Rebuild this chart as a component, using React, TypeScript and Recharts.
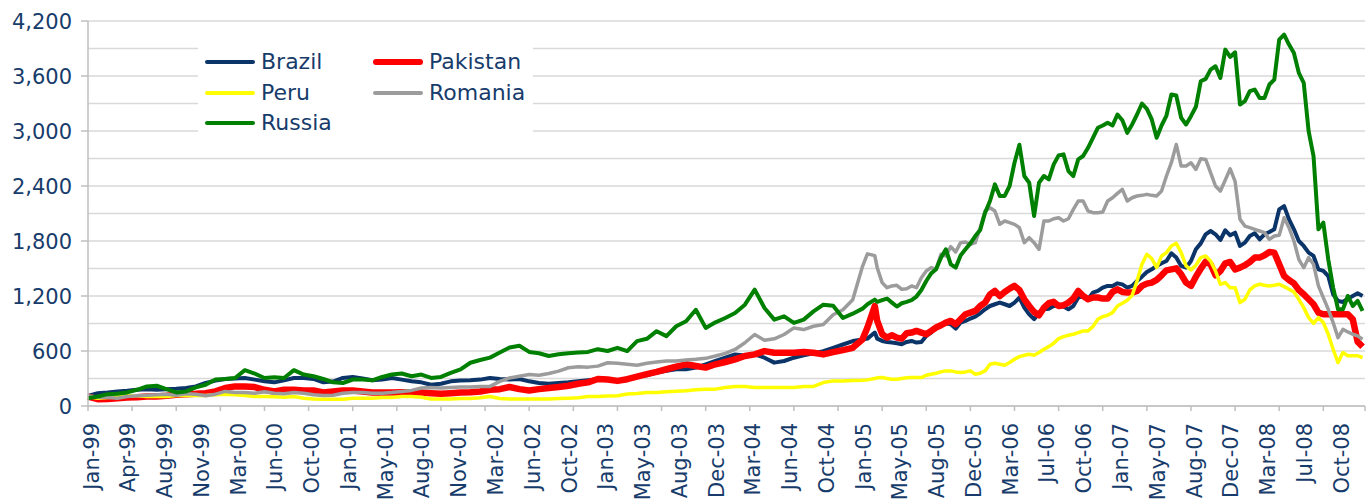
import { LineChart, Line, XAxis, YAxis, CartesianGrid } from 'recharts';

// week offsets from the first week of Jan-99 (monthly early on, fortnightly from 2005)
const weeks = [
  0, 4, 8, 12, 16, 20, 24, 28, 32, 36, 40, 44, 48, 52, 56, 60, 64, 68, 72, 76, 80, 84, 88, 92, 96, 100, 104,
  108, 112, 116, 120, 124, 128, 132, 136, 140, 144, 148, 152, 156, 160, 164, 168, 172, 176, 180, 184, 188, 192, 196, 200, 204, 208, 212,
  216, 220, 224, 228, 232, 236, 240, 244, 248, 252, 256, 260, 264, 268, 272, 276, 280, 284, 288, 292, 296, 300, 304, 308, 312, 316,
  318, 321,
  322, 324, 326, 328, 330, 332, 334, 336, 338, 340,
  342, 344, 346, 348, 350, 352, 354, 356, 358, 360,
  362, 364, 366, 368, 370, 372, 374, 376, 378, 380,
  382, 384, 386, 388, 390, 392, 394, 396, 398, 400,
  402, 404, 406, 408, 410, 412, 414, 416, 418, 420,
  422, 424, 426, 428, 430, 432, 434, 436, 438, 440,
  442, 444, 446, 448, 450, 452, 454, 456, 458, 460,
  462, 464, 466, 468, 470, 472, 474, 476, 478, 480,
  482, 484, 486, 488, 490, 492, 494, 496, 498, 500,
  502, 504, 506, 508, 510, 512, 514, 516, 518, 520,
];

const brazil = [
  111, 140, 148, 159, 166, 177, 184, 177, 184, 188, 196, 214, 251, 277, 295, 299, 306, 288, 269, 258, 280, 306, 306, 295, 258, 266, 306,
  317, 299, 280, 288, 306, 288, 269, 258, 232, 243, 269, 277, 280, 288, 306, 295, 288, 295, 269, 251, 243, 251, 258, 269, 280, 288, 295,
  274, 300, 321, 336, 365, 383, 401, 401, 419, 455, 491, 527, 563, 552, 563, 527, 473, 491, 527, 552, 574, 599, 635, 671, 708, 725,
  735, 801,
  735, 710, 699, 692, 685, 674, 699, 710, 692, 699,
  764, 801, 855, 881, 903, 892, 844, 910, 928, 954,
  975, 1011, 1055, 1091, 1110, 1128, 1110, 1091, 1128, 1183,
  1073, 1000, 947, 1019, 1055, 1062, 1091, 1091, 1085, 1055,
  1091, 1183, 1200, 1164, 1237, 1255, 1291, 1310, 1310, 1338,
  1327, 1291, 1310, 1364, 1411, 1462, 1491, 1528, 1557, 1582,
  1666, 1619, 1528, 1510, 1582, 1709, 1774, 1873, 1909, 1873,
  1811, 1917, 1862, 1891, 1746, 1782, 1855, 1884, 1818, 1873,
  1898, 1928, 2145, 2181, 2036, 1928, 1800, 1746, 1673, 1637,
  1491, 1473, 1418, 1219, 1146, 1135, 1171, 1200, 1229, 1200,
];

const pakistan = [
  103, 74, 77, 85, 92, 96, 103, 103, 111, 122, 129, 133, 140, 159, 196, 214, 214, 207, 177, 159, 177, 177, 170, 170, 148, 159, 170,
  170, 159, 148, 148, 148, 151, 148, 148, 140, 133, 140, 148, 151, 159, 177, 184, 207, 184, 170, 184, 196, 207, 221, 243, 258, 295, 290,
  274, 292, 321, 347, 372, 401, 430, 455, 437, 419, 455, 480, 509, 545, 563, 599, 581, 581, 581, 588, 581, 563, 588, 610, 635, 727,
  856, 1091,
  928, 783, 746, 772, 746, 735, 793, 801, 819, 801,
  783, 819, 856, 881, 910, 928, 892, 946, 1001, 1019,
  1037, 1091, 1128, 1218, 1255, 1200, 1244, 1280, 1310, 1266,
  1164, 1091, 1026, 990, 1073, 1121, 1136, 1091, 1099, 1128,
  1172, 1255, 1200, 1164, 1183, 1183, 1172, 1172, 1244, 1273,
  1244, 1237, 1237, 1255, 1310, 1335, 1346, 1375, 1426, 1480,
  1491, 1502, 1437, 1346, 1310, 1411, 1498, 1575, 1546, 1426,
  1473, 1557, 1571, 1491, 1510, 1535, 1571, 1619, 1619, 1644,
  1680, 1673, 1546, 1418, 1375, 1338, 1266, 1219, 1164, 1110,
  1019, 1001, 1001, 1001, 1001, 1001, 1001, 946, 701, 646,
];

const peru = [
  103, 85, 92, 103, 111, 111, 103, 103, 103, 114, 114, 114, 114, 122, 129, 122, 114, 103, 103, 100, 96, 103, 85, 77, 74, 74, 74,
  85, 85, 85, 92, 92, 103, 103, 96, 77, 77, 77, 81, 81, 89, 103, 81, 77, 77, 77, 77, 77, 81, 85, 89, 103, 103, 108,
  112, 130, 137, 148, 148, 155, 162, 166, 177, 184, 184, 202, 213, 213, 202, 202, 202, 202, 202, 213, 213, 256, 274, 274, 278, 280,
  285, 300,
  307, 310, 300, 292, 292, 300, 307, 310, 310, 310,
  336, 347, 358, 372, 383, 383, 372, 365, 372, 383,
  347, 358, 383, 456, 467, 456, 445, 474, 510, 539,
  554, 565, 554, 583, 619, 648, 685, 736, 757, 772,
  783, 801, 819, 819, 866, 946, 975, 990, 1019, 1091,
  1120, 1153, 1207, 1364, 1546, 1655, 1608, 1510, 1637, 1673,
  1746, 1775, 1673, 1528, 1484, 1535, 1619, 1637, 1582, 1473,
  1328, 1346, 1291, 1291, 1128, 1164, 1266, 1310, 1328, 1317,
  1310, 1317, 1328, 1302, 1273, 1244, 1164, 1073, 964, 902,
  964, 910, 783, 619, 474, 583, 547, 547, 547, 529,
];

const romania = [
  111, 96, 92, 85, 103, 111, 118, 122, 129, 118, 133, 129, 111, 129, 159, 148, 148, 140, 155, 140, 133, 148, 140, 122, 114, 118, 140,
  148, 148, 140, 140, 148, 159, 170, 196, 203, 196, 203, 207, 207, 214, 214, 269, 306, 325, 343, 336, 354, 380, 417, 428, 424, 435, 472,
  466, 455, 444, 466, 480, 491, 491, 502, 509, 520, 545, 574, 617, 690, 780, 718, 733, 780, 852, 834, 870, 888, 996, 1050, 1159, 1524,
  1660, 1640,
  1509, 1346, 1291, 1310, 1317, 1273, 1280, 1310, 1291, 1400,
  1473, 1510, 1491, 1655, 1637, 1738, 1680, 1782, 1789, 1764,
  1782, 1945, 2127, 2163, 2127, 1982, 2018, 2000, 1982, 1945,
  1782, 1836, 1782, 1709, 2018, 2018, 2043, 2054, 2018, 2043,
  2145, 2236, 2236, 2127, 2109, 2109, 2116, 2236, 2272, 2320,
  2363, 2236, 2272, 2291, 2298, 2309, 2298, 2291, 2345, 2509,
  2654, 2853, 2618, 2618, 2654, 2581, 2697, 2690, 2545, 2400,
  2345, 2465, 2588, 2450, 2036, 1963, 1945, 1927, 1909, 1891,
  1818, 1854, 1862, 2054, 1945, 1800, 1600, 1509, 1618, 1546,
  1310, 1182, 1055, 910, 746, 837, 808, 783, 765, 728,
];

const russia = [
  85, 103, 129, 133, 148, 177, 214, 221, 184, 148, 159, 203, 232, 288, 295, 306, 391, 354, 306, 314, 306, 391, 343, 325, 295, 258, 251,
  288, 288, 280, 317, 343, 354, 325, 343, 306, 317, 362, 399, 472, 502, 528, 583, 638, 657, 590, 576, 546, 565, 576, 583, 590, 620, 600,
  635, 599, 708, 733, 816, 762, 870, 924, 1050, 852, 913, 960, 1014, 1105, 1270, 1069, 942, 978, 906, 942, 1032, 1105, 1094, 960, 1007, 1062,
  1110, 1160,
  1136, 1154, 1172, 1128, 1085, 1121, 1136, 1154, 1194, 1266,
  1364, 1447, 1491, 1618, 1709, 1545, 1509, 1643, 1709, 1774,
  1854, 1920, 2109, 2236, 2418, 2291, 2291, 2400, 2654, 2850,
  2509, 2436, 2073, 2436, 2509, 2473, 2636, 2734, 2745, 2563,
  2509, 2691, 2727, 2817, 2926, 3035, 3060, 3089, 3060, 3180,
  3118, 2980, 3071, 3180, 3300, 3242, 3126, 2926, 3060, 3169,
  3398, 3387, 3144, 3071, 3162, 3264, 3543, 3569, 3670, 3706,
  3579, 3888, 3808, 3859, 3289, 3325, 3434, 3452, 3361, 3361,
  3507, 3561, 3997, 4051, 3943, 3852, 3634, 3525, 2999, 2726,
  1927, 2000, 1600, 1292, 1055, 1055, 1200, 1091, 1146, 1037,
];

const xLabels = [
  'Jan-99', 'Apr-99', 'Aug-99', 'Nov-99', 'Mar-00', 'Jun-00', 'Oct-00', 'Jan-01', 'May-01', 'Aug-01',
  'Nov-01', 'Mar-02', 'Jun-02', 'Oct-02', 'Jan-03', 'May-03', 'Aug-03', 'Dec-03', 'Mar-04', 'Jun-04',
  'Oct-04', 'Jan-05', 'May-05', 'Aug-05', 'Dec-05', 'Mar-06', 'Jul-06', 'Oct-06', 'Jan-07', 'May-07',
  'Aug-07', 'Dec-07', 'Mar-08', 'Jul-08', 'Oct-08',
];

const yTicks = [0, 300, 600, 900, 1200, 1500, 1800, 2100, 2400, 2700, 3000, 3300, 3600, 3900, 4200];

const LABEL_STEP = 15; // weeks between date labels
const MARK_STEP = 18; // weeks between tick marks
const LAST_WEEK = 521;

const TEXT = '#173C6B';
const AXIS = '#BFBFBF';
const FONT = '"DejaVu Sans", Verdana, sans-serif';

const series = [
  { key: 'brazil', name: 'Brazil', color: '#0B3468', width: 4 },
  { key: 'pakistan', name: 'Pakistan', color: '#FF0000', width: 6.5 },
  { key: 'peru', name: 'Peru', color: '#FFFF00', width: 3.5 },
  { key: 'romania', name: 'Romania', color: '#9C9C9C', width: 3.5 },
  { key: 'russia', name: 'Russia', color: '#008000', width: 4 },
];

const data = weeks.map((w, i) => ({
  week: w,
  brazil: brazil[i],
  pakistan: pakistan[i],
  peru: peru[i],
  romania: romania[i],
  russia: russia[i],
}));

const labelByWeek = new Map(xLabels.map((l, i) => [i * LABEL_STEP, l]));
const xTicks = Array.from(
  new Set([
    ...xLabels.map((_, i) => i * LABEL_STEP),
    ...Array.from({ length: Math.floor(LAST_WEEK / MARK_STEP) + 1 }, (_, i) => i * MARK_STEP),
    LAST_WEEK,
  ]),
).sort((a, b) => a - b);

function XTick(props: any) {
  const { x, y, payload } = props;
  const w = payload.value as number;
  const label = labelByWeek.get(w);
  const isMark = w % MARK_STEP === 0 || w === LAST_WEEK;
  return (
    <g>
      {isMark ? <line x1={x} x2={x} y1={y} y2={y + 5} stroke={AXIS} strokeWidth={1.5} /> : null}
      {label ? (
        <text
          transform={`translate(${x + 3},${y + 17}) rotate(-90)`}
          textAnchor="end"
          dy="0.36em"
          fill={TEXT}
          style={{ fontFamily: FONT, fontSize: 21 }}
        >
          {label}
        </text>
      ) : null}
    </g>
  );
}

function YTick(props: any) {
  const { x, y, payload } = props;
  const v = payload.value as number;
  if (v % 600 !== 0) return <g />;
  return (
    <g>
      <line x1={x - 7} x2={x} y1={y} y2={y} stroke={AXIS} strokeWidth={1.5} />
      <text x={x - 16} y={y} dy="0.36em" textAnchor="end" fill={TEXT} style={{ fontFamily: FONT, fontSize: 21 }}>
        {v.toLocaleString('en-US')}
      </text>
    </g>
  );
}

function ChartLegend() {
  return (
    <div
      style={{
        position: 'absolute',
        left: 198,
        top: 42,
        width: 335,
        height: 96,
        background: '#fff',
        paddingTop: 5,
        boxSizing: 'border-box',
        display: 'grid',
        gridTemplateColumns: '168px 167px',
        gridAutoRows: 30.5,
        fontFamily: FONT,
        fontSize: 22,
        color: TEXT,
      }}
    >
      {series.map((s) => (
        <div key={s.key} style={{ display: 'flex', alignItems: 'center', paddingLeft: 7 }}>
          <span
            style={{
              display: 'inline-block',
              width: 50,
              height: s.key === 'pakistan' ? 6 : 4,
              borderRadius: 3,
              background: s.color,
            }}
          />
          <span style={{ marginLeft: 6, lineHeight: '30px' }}>{s.name}</span>
        </div>
      ))}
    </div>
  );
}

export default function App() {
  return (
    <div style={{ position: 'relative', width: 1372, height: 504 }}>
      <style>{'body{margin:0}'}</style>
      <LineChart width={1372} height={504} data={data} margin={{ top: 21, right: 7, bottom: 0, left: 0 }}>
        <CartesianGrid vertical={false} stroke="#D9D9D9" strokeWidth={1.5} />
        <XAxis
          type="number"
          dataKey="week"
          domain={[0, LAST_WEEK]}
          ticks={xTicks}
          interval={0}
          height={98}
          tickSize={0}
          tickMargin={0}
          tickLine={false}
          axisLine={{ stroke: AXIS, strokeWidth: 1.5 }}
          tick={XTick}
        />
        <YAxis
          type="number"
          domain={[0, 4200]}
          ticks={yTicks}
          interval={0}
          width={88}
          tickSize={0}
          tickMargin={0}
          tickLine={false}
          axisLine={{ stroke: AXIS, strokeWidth: 1.5 }}
          tick={YTick}
        />
        {series.map((s) => (
          <Line
            key={s.key}
            type="linear"
            dataKey={s.key}
            name={s.name}
            stroke={s.color}
            strokeWidth={s.width}
            strokeLinejoin="round"
            dot={false}
            activeDot={false}
            isAnimationActive={false}
          />
        ))}
      </LineChart>
      <ChartLegend />
    </div>
  );
}
